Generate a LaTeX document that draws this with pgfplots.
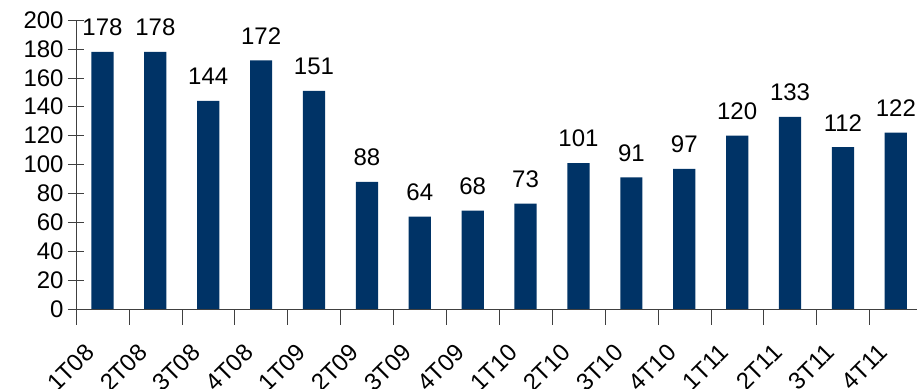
\documentclass[border=0pt]{standalone}
\usepackage{fontspec}
\setmainfont{Liberation Sans}
\usepackage{pgfplots}
\pgfplotsset{compat=1.18}
\definecolor{barblue}{RGB}{0,51,102}

\begin{document}
\begin{tikzpicture}[font=\fontsize{12}{14}\selectfont]
\begin{axis}[
	name=ax,
	scale only axis,
	width=420.5pt,
	height=144.5pt,
	xmin=-0.5, xmax=15.4,
	ymin=0, ymax=200,
	ytick={0,20,...,200},
	yticklabel style={inner sep=2pt},
	xtick={-0.5,0.5,...,14.5},
	xticklabels={1T08,2T08,3T08,4T08,1T09,2T09,3T09,4T09,1T10,2T10,3T10,4T10,1T11,2T11,3T11,4T11},
	xticklabel style={xshift=4pt, yshift=-7pt, rotate=45, anchor=north east, inner sep=1pt},
	/pgf/number format/assume math mode=true,
	axis x line=bottom,
	axis y line=left,
	axis line style={-, draw=black!75},
	tick style={draw=black!75},
	tick align=center,
	major tick length=8pt,
	clip=false,
	ybar,
	bar width=0.42,
	nodes near coords,
	every node near coord/.append style={font=\fontsize{12}{14}\selectfont, yshift=4.5pt},
]
\addplot[fill=barblue, draw=none] coordinates {
(0,178) (1,178) (2,144) (3,172) (4,151) (5,88) (6,64) (7,68)
(8,73) (9,101) (10,91) (11,97) (12,120) (13,133) (14,112) (15,122)
};
\end{axis}
\pgfresetboundingbox
\path (ax.south west) ++(-38pt,-40pt) rectangle (ax.north east) ++(0,10pt);
\end{tikzpicture}
\end{document}
